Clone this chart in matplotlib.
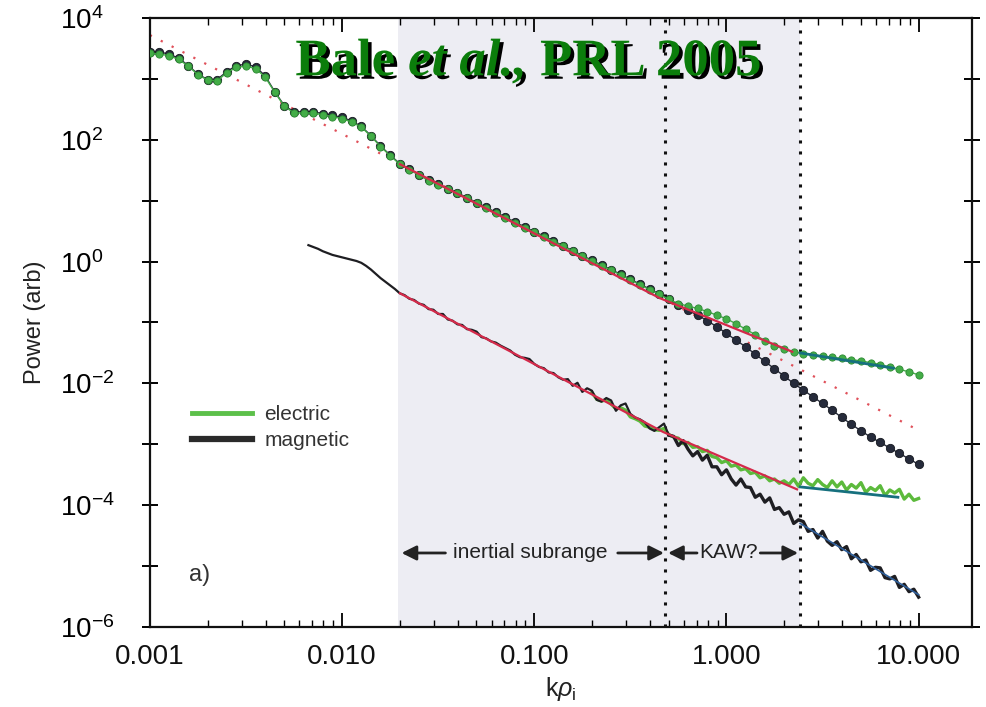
import numpy as np
import matplotlib
matplotlib.use("Agg")
import matplotlib.pyplot as plt
from matplotlib import patheffects as pe
from matplotlib.lines import Line2D
from matplotlib.ticker import LogLocator, NullFormatter, NullLocator

plt.rcParams['font.family'] = ['Liberation Sans', 'DejaVu Sans']
plt.rcParams['mathtext.fontset'] = 'custom'
plt.rcParams['mathtext.rm'] = 'Liberation Sans'
plt.rcParams['mathtext.it'] = 'Liberation Sans:italic'
plt.rcParams['mathtext.bf'] = 'Liberation Sans:bold'

# ---------------- data (log10 values) ----------------
# upper spectra, grid in log10(k rho_i) from -3 to 1, step 0.05
up_logk_start, up_logk_end = -3.0, 1.0
electric_up_common = [3.42, 3.41, 3.38, 3.32, 3.21, 3.07, 2.98, 2.97, 3.10, 3.19,
                      3.21, 3.17, 3.03, 2.78, 2.55, 2.44, 2.44, 2.44, 2.41, 2.38,
                      2.35, 2.29, 2.21, 2.06, 1.89, 1.74, 1.60, 1.51, 1.42, 1.33,
                      1.26, 1.19, 1.12, 1.04, 0.96, 0.88, 0.80, 0.72, 0.64, 0.56,
                      0.48, 0.41, 0.33, 0.25, 0.17, 0.09, 0.01, -0.07, -0.14, -0.22,
                      -0.30, -0.38, -0.46, -0.54, -0.62]
magnetic_up_common = [3.44, 3.44, 3.41, 3.34, 3.22, 3.08, 2.99, 2.99, 3.12, 3.22,
                      3.24, 3.20, 3.05, 2.79, 2.56, 2.46, 2.46, 2.46, 2.43, 2.40,
                      2.37, 2.31, 2.22, 2.07, 1.90, 1.75, 1.61, 1.52, 1.43, 1.34,
                      1.27, 1.20, 1.13, 1.05, 0.97, 0.89, 0.81, 0.73, 0.65, 0.57,
                      0.49, 0.42, 0.34, 0.26, 0.18, 0.10, 0.02, -0.06, -0.13, -0.21,
                      -0.29, -0.37, -0.45, -0.53, -0.61]
electric_up_tail = [-0.69, -0.73, -0.77, -0.82, -0.88, -0.94, -1.02, -1.11, -1.20, -1.30,
                    -1.38, -1.44, -1.48, -1.51, -1.53, -1.55, -1.57, -1.59, -1.61, -1.63,
                    -1.66, -1.69, -1.73, -1.77, -1.81, -1.86]
magnetic_up_tail = [-0.72, -0.80, -0.88, -0.97, -1.07, -1.18, -1.29, -1.40, -1.52, -1.64,
                    -1.76, -1.88, -2.00, -2.11, -2.22, -2.33, -2.44, -2.56, -2.67, -2.78,
                    -2.88, -2.97, -3.06, -3.15, -3.24, -3.33]

# lower magnetic spectrum, log10 k from -2.175 to 1.0 (step 0.025)
low_mag_logk_start, low_mag_logk_end = -2.175, 1.0
magnetic_low = [0.27, 0.24, 0.21, 0.17, 0.14, 0.11, 0.09, 0.07, 0.05, 0.03,
                0.01, -0.02, -0.07, -0.13, -0.20, -0.27, -0.33, -0.39, -0.45, -0.52,
                -0.55, -0.61, -0.63, -0.69, -0.71, -0.78, -0.79, -0.86, -0.86, -0.95,
                -0.97, -1.03, -1.04, -1.11, -1.12, -1.15, -1.24, -1.26, -1.31, -1.33,
                -1.38, -1.42, -1.46, -1.53, -1.57, -1.58, -1.60, -1.68, -1.73, -1.75,
                -1.82, -1.83, -1.90, -1.94, -1.93, -2.04, -1.99, -2.14, -2.08, -2.12,
                -2.27, -2.30, -2.24, -2.28, -2.45, -2.36, -2.33, -2.50, -2.56, -2.59,
                -2.64, -2.74, -2.78, -2.72, -2.66, -2.85,
                -2.87, -3.02, -2.94, -3.08, -3.19, -3.12, -3.26, -3.18, -3.37, -3.37,
                -3.50, -3.42, -3.57, -3.67, -3.57, -3.70, -3.71, -3.87, -3.82, -3.95,
                -3.88, -4.07, -4.04, -4.15, -4.11, -4.30, -4.24, -4.27, -4.43, -4.40,
                -4.54, -4.43, -4.59, -4.66, -4.60, -4.73, -4.68, -4.88, -4.81, -4.93,
                -4.90, -5.07, -5.02, -5.03, -5.19, -5.21, -5.17, -5.35, -5.30, -5.42,
                -5.38, -5.51]
mag_low_split_index = 75  # where the spectrum leaves the inertial range

# lower electric spectrum, log10 k from -0.70 to 1.0 (step 0.025)
low_ele_logk_start, low_ele_logk_end = -0.70, 1.0
electric_low = [-2.15, -2.26, -2.29, -2.27, -2.34, -2.42, -2.40, -2.44, -2.55, -2.58,
                -2.62, -2.70, -2.72, -2.76, -2.77, -2.74, -2.84, -2.88, -2.90, -2.99,
                -2.97, -3.05, -3.04, -3.12, -3.10, -3.20, -3.22, -3.30, -3.27, -3.36,
                -3.34, -3.42, -3.40, -3.48, -3.46, -3.55, -3.52, -3.60, -3.57, -3.64,
                -3.60, -3.66, -3.57, -3.69, -3.55, -3.64, -3.68, -3.58, -3.66, -3.71,
                -3.60, -3.70, -3.62, -3.75, -3.66, -3.72, -3.63, -3.79, -3.71, -3.76,
                -3.68, -3.84, -3.75, -3.80, -3.74, -3.90, -3.82, -3.92, -3.89]

# power-law fits (k, log10 P)
fit_dot_k = [0.001, 10.0]
fit_dot_logp = [3.72, -2.77]
fit_up_red_k = [0.020, 0.45, 2.2]
fit_up_red_logp = [1.60, -0.60, -1.48]
fit_up_teal_k = [2.42, 7.4]
fit_up_teal_logp = [-1.50, -1.75]
fit_low_red_k = [0.020, 0.47, 2.33]
fit_low_red_logp = [-0.52, -2.80, -3.74]
fit_low_teal_k = [2.42, 7.8]
fit_low_teal_logp = [-3.70, -3.87]
fit_low_blue_k = [2.42, 10.0]
fit_low_blue_logp = [-4.30, -5.47]

# ranges
inertial_start, inertial_end, kaw_end = 0.0195, 0.48, 2.42

x_ticks = [0.001, 0.01, 0.1, 1.0, 10.0]
x_ticklabels = ['0.001', '0.010', '0.100', '1.000', '10.000']
y_exps = list(range(-6, 5))
legend_labels = ['electric', 'magnetic']

# ---------------- derived arrays ----------------
electric_up = electric_up_common + electric_up_tail
magnetic_up = magnetic_up_common + magnetic_up_tail
k_up = 10 ** np.linspace(up_logk_start, up_logk_end, len(electric_up))
k_low_m = 10 ** np.linspace(low_mag_logk_start, low_mag_logk_end, len(magnetic_low))
k_low_e = 10 ** np.linspace(low_ele_logk_start, low_ele_logk_end, len(electric_low))
P = lambda v: 10 ** np.asarray(v)

# ---------------- figure ----------------
fig = plt.figure(figsize=(9.86, 7.07), dpi=100)
ax = fig.add_axes([0.152, 0.1132, 0.834, 0.8613])
ax.set_xscale('log')
ax.set_yscale('log')
ax.set_xlim(1e-3, 19)
ax.set_ylim(1e-6, 1e4)

ax.axvspan(inertial_start, kaw_end, color='#ededf3', lw=0, zorder=0)
for xv in (inertial_end, kaw_end):
    ax.axvline(xv, color='#111111', lw=2.2, ls=(0, (1, 2.6)), zorder=1)

GREEN = '#43ad47'
DARK = '#262b3b'

# red dotted long fit
ax.plot(fit_dot_k, P(fit_dot_logp), color='#e0505a', lw=1.6, ls=(0, (1, 4.5)), zorder=2)

# upper spectra (dots)
ax.plot(k_up, P(magnetic_up), color=DARK, lw=1.0, marker='o', ms=6, mec='#15181f',
        mew=0.6, zorder=3)
ax.plot(k_up, P(electric_up), color=GREEN, lw=1.0, marker='o', ms=5.2, mec='#2e8a35',
        mew=0.6, zorder=4)

# lower spectra (noisy lines)
ax.plot(k_low_e, P(electric_low), color='#5cba3c', lw=2.4, zorder=3)
s = mag_low_split_index
ax.plot(k_low_m[:s + 1], P(magnetic_low[:s + 1]), color='#1e1e22', lw=1.6, zorder=3.2)
ax.plot(k_low_m[s:], P(magnetic_low[s:]), color='#1e1e22', lw=2.4, zorder=3.2)

# fit lines
ax.plot(fit_up_red_k, P(fit_up_red_logp), color='#d42a4a', lw=1.6, zorder=5)
ax.plot(fit_low_red_k, P(fit_low_red_logp), color='#d42a4a', lw=1.6, zorder=5)
ax.plot(fit_up_teal_k, P(fit_up_teal_logp), color='#16707e', lw=2.0, zorder=5)
ax.plot(fit_low_teal_k, P(fit_low_teal_logp), color='#16707e', lw=2.0, zorder=5)
ax.plot(fit_low_blue_k, P(fit_low_blue_logp), color='#2f5f9a', lw=1.2, zorder=5)

# legend
handles = [Line2D([], [], color='#5cc04a', lw=3.5),
           Line2D([], [], color='#2a2a2a', lw=4.5)]
ax.legend(handles, legend_labels, loc='upper left', bbox_to_anchor=(0.028, 0.395),
          frameon=False, handlelength=2.9, fontsize=15, labelspacing=0.35,
          handletextpad=0.6, labelcolor='#333333')

ax.text(0.047, 0.075, 'a)', transform=ax.transAxes, fontsize=17, color='#333333')

# range annotations
y_arr = 10 ** -4.785
ap = dict(arrowstyle='-|>', color='#222222', lw=2.0, mutation_scale=22,
          shrinkA=0, shrinkB=0)
ax.text(0.0957, y_arr, 'inertial subrange', ha='center', va='center', fontsize=15,
        color='#222222', zorder=6)
ax.annotate('', xy=(0.0204, y_arr), xytext=(0.0345, y_arr), arrowprops=ap, zorder=6)
ax.annotate('', xy=(0.473, y_arr), xytext=(0.272, y_arr), arrowprops=ap, zorder=6)
ax.text(1.03, y_arr, 'KAW?', ha='center', va='center', fontsize=15,
        color='#222222', zorder=6)
ax.annotate('', xy=(0.497, y_arr), xytext=(0.703, y_arr), arrowprops=ap, zorder=6)
ax.annotate('', xy=(2.36, y_arr), xytext=(1.50, y_arr), arrowprops=ap, zorder=6)

# title with shadow
TG = '#0b7d0b'
shadow = [pe.withSimplePatchShadow(offset=(2.5, -2.5), shadow_rgbFace='black', alpha=1.0)]
t1 = ax.text(0.177, 0.906, 'Bale', transform=ax.transAxes, fontsize=38,
             family='Liberation Serif', fontweight='bold', color=TG,
             va='baseline', path_effects=shadow, zorder=7)
t2 = ax.annotate('et al.,', xy=(1, 0), xycoords=t1, xytext=(9.5, 0),
                 textcoords='offset points', fontsize=38, family='Liberation Serif',
                 fontweight='bold', fontstyle='italic', color=TG, va='bottom',
                 path_effects=shadow, zorder=7)
t3 = ax.annotate('PRL 2005', xy=(1, 0), xycoords=t2, xytext=(9.5, 0),
                 textcoords='offset points', fontsize=38, family='Liberation Serif',
                 fontweight='bold', color=TG, va='bottom',
                 path_effects=shadow, zorder=7)

# axes styling
ax.set_xticks(x_ticks)
ax.set_xticklabels(x_ticklabels)
ax.xaxis.set_minor_locator(LogLocator(base=10, subs=np.arange(2, 10), numticks=30))
ax.xaxis.set_minor_formatter(NullFormatter())
ax.set_yticks([10.0 ** e for e in y_exps])
ax.set_yticklabels([r'$10^{%d}$' % e if e % 2 == 0 else '' for e in y_exps])
ax.yaxis.set_minor_locator(NullLocator())

ax.tick_params(axis='x', which='major', direction='in', length=10, width=1.4,
               labelsize=20, pad=12, top=True, colors='#111111')
ax.tick_params(axis='x', which='minor', direction='in', length=5, width=1.0, top=True)
ax.tick_params(axis='y', which='major', direction='inout', length=12, width=1.4,
               labelsize=20, pad=59, right=True)
for lbl in ax.get_yticklabels():
    lbl.set_horizontalalignment('left')

for sp in ax.spines.values():
    sp.set_linewidth(1.6)
    sp.set_color('#111111')

ax.set_xlabel(r'k$\rho_{\mathrm{i}}$', fontsize=18, labelpad=4, color='#222222')
ax.set_ylabel('Power (arb)', fontsize=17, labelpad=10, color='#222222')

fig.savefig('out.png', dpi=100)
